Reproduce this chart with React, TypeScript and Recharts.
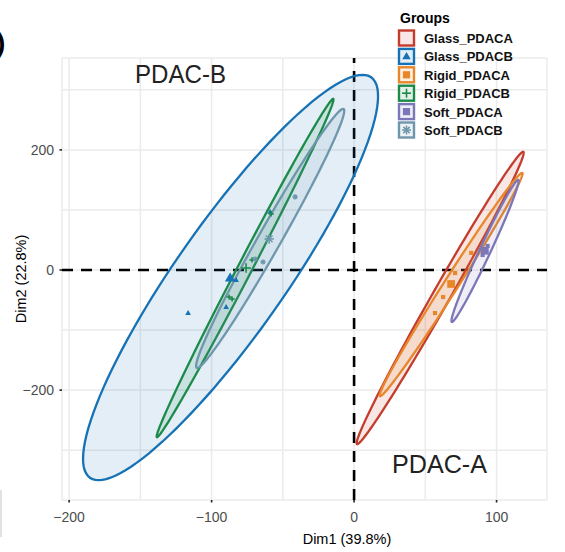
import React from 'react';
import {
    ScatterChart,
    Scatter,
    XAxis,
    YAxis,
    CartesianGrid,
    ReferenceLine,
    Legend
} from 'recharts';

const FONT = '"Liberation Sans", Arial, sans-serif';

const groupNames = ['Glass_PDACA', 'Glass_PDACB', 'Rigid_PDACA', 'Rigid_PDACB', 'Soft_PDACA', 'Soft_PDACB'];
const groupColors = ['#C43C2C', '#1672B5', '#E8862A', '#1B8A4B', '#7B77B8', '#6E96AC'];
const groupShapes = ['none', 'triangle', 'square', 'plus', 'square', 'asterisk'];

const xTicks = [-200, -150, -100, -50, 0, 50, 100];
const yTicks = [-300, -200, -100, 0, 100, 200, 300];
const xLabelled = [-200, -100, 0, 100];
const yLabelled = [-200, 0, 200];

// individual samples
const glassPdacaPoints: { x: number; y: number }[] = [];
const glassPdacbPoints = [
    { x: -116.5, y: -71.7 },
    { x: -89.8, y: -61.7 },
    { x: -82.8, y: -16.7 },
    { x: -58.9, y: 96.7 }
];
const rigidPdacaPoints = [
    { x: 70.9, y: -5 },
    { x: 62.5, y: -45 },
    { x: 56.8, y: -71.7 },
    { x: 82.2, y: 28.5 }
];
const rigidPdacbPoints = [
    { x: -87.7, y: -45 },
    { x: -85.6, y: -48.3 },
    { x: -71.6, y: 16.7 },
    { x: -58.2, y: 93.3 }
];
const softPdacaPoints = [
    { x: 90.2, y: 25 },
    { x: 93.7, y: 40 },
    { x: 91.6, y: 31 }
];
const softPdacbPoints = [
    { x: -69.5, y: 18.3 },
    { x: -63.9, y: 13.3 },
    { x: -41.4, y: 121.7 }
];

// group means
const groupMeans = [
    null,
    { x: -87, y: -13.3 },
    { x: 68.1, y: -23.3 },
    { x: -75.8, y: 3.3 },
    { x: 91.8, y: 32 },
    { x: -59.6, y: 51.7 }
];

// ellipses: centre, topmost point, end of horizontal half-chord through centre
const glassPdacaEllipse = [{ x: 60.4, y: -46.7 }, { x: 118.6, y: 196.7 }, { x: 67.4, y: -46.7 }];
const glassPdacbEllipse = [{ x: -86.7, y: -12.5 }, { x: 5.9, y: 325 }, { x: -40.4, y: -12.5 }];
const rigidPdacaEllipse = [{ x: 68.1, y: -24.2 }, { x: 117.9, y: 161.7 }, { x: 74, y: -24.2 }];
const rigidPdacbEllipse = [{ x: -76.5, y: 3.3 }, { x: -14.7, y: 285 }, { x: -70.9, y: 3.3 }];
const softPdacaEllipse = [{ x: 91.9, y: 31.7 }, { x: 115.1, y: 150 }, { x: 96.1, y: 31.7 }];
const softPdacbEllipse = [{ x: -58.9, y: 52.5 }, { x: -7.7, y: 268.3 }, { x: -49.8, y: 52.5 }];

const ellipses = [glassPdacaEllipse, glassPdacbEllipse, rigidPdacaEllipse, rigidPdacbEllipse, softPdacaEllipse, softPdacbEllipse];
const samples = [glassPdacaPoints, glassPdacbPoints, rigidPdacaPoints, rigidPdacbPoints, softPdacaPoints, softPdacbPoints];

const Marker = ({ kind, cx, cy, r, color }: any) => {
    if (cx == null || cy == null) return <g />;
    switch (kind) {
        case 'triangle':
            return (
                <polygon
                    points={`${cx},${cy - r} ${cx + r * 0.95},${cy + r * 0.65} ${cx - r * 0.95},${cy + r * 0.65}`}
                    fill={color}
                />
            );
        case 'square':
            return <rect x={cx - r * 0.8} y={cy - r * 0.8} width={r * 1.6} height={r * 1.6} fill={color} />;
        case 'plus':
            return (
                <g stroke={color} strokeWidth={1.6}>
                    <line x1={cx - r} x2={cx + r} y1={cy} y2={cy} />
                    <line x1={cx} x2={cx} y1={cy - r} y2={cy + r} />
                </g>
            );
        case 'asterisk':
            return (
                <g stroke={color} strokeWidth={1.5}>
                    <line x1={cx - r} x2={cx + r} y1={cy} y2={cy} />
                    <line x1={cx} x2={cx} y1={cy - r} y2={cy + r} />
                    <line x1={cx - r * 0.7} x2={cx + r * 0.7} y1={cy - r * 0.7} y2={cy + r * 0.7} />
                    <line x1={cx - r * 0.7} x2={cx + r * 0.7} y1={cy + r * 0.7} y2={cy - r * 0.7} />
                </g>
            );
        default:
            return <g />;
    }
};

const ellipseLine = (color: string) => (props: any) => {
    const pts = props.points;
    if (!pts || pts.length < 3) return <g />;
    const [c, t, s] = pts;
    const ux = t.x - c.x, uy = t.y - c.y, vx = s.x - c.x, vy = s.y - c.y;
    let d = '';
    for (let i = 0; i <= 120; i++) {
        const a = (i / 120) * Math.PI * 2;
        const x = c.x + Math.cos(a) * ux + Math.sin(a) * vx;
        const y = c.y + Math.cos(a) * uy + Math.sin(a) * vy;
        d += (i === 0 ? 'M' : 'L') + x.toFixed(2) + ',' + y.toFixed(2);
    }
    return <path d={d + 'Z'} fill={color} fillOpacity={0.12} stroke={color} strokeWidth={2.3} />;
};

const fmt = (v: number) => (v < 0 ? '\u2212' + Math.abs(v) : String(v));

const XTick = ({ x, y, payload }: any) => {
    if (!xLabelled.includes(payload.value)) return <g />;
    return (
        <g>
            <line x1={x} x2={x} y1={y} y2={y + 2.5} stroke="#222" strokeWidth={1.6} />
            <text x={x} y={y + 22} textAnchor="middle" fontSize={14} fill="#4d4d4d" fontFamily={FONT}>
                {fmt(payload.value)}
            </text>
        </g>
    );
};

const YTick = ({ x, y, payload }: any) => {
    if (!yLabelled.includes(payload.value)) return <g />;
    return (
        <g>
            <line x1={x - 2.5} x2={x} y1={y} y2={y} stroke="#222" strokeWidth={1.6} />
            <text x={x - 8} y={y + 5} textAnchor="end" fontSize={14} fill="#4d4d4d" fontFamily={FONT}>
                {fmt(payload.value)}
            </text>
        </g>
    );
};

const GroupLegend = () => (
    <svg width={150} height={145} style={{ display: 'block' }}>
        <text x={3} y={23} fontSize={14} fontWeight="bold" fontFamily={FONT} fill="#000">Groups</text>
        {groupNames.map((name, i) => {
            const cy = 38 + i * 18.4;
            const color = groupColors[i];
            return (
                <g key={name}>
                    <rect x={2} y={cy - 7.5} width={15} height={15} fill="#fff" />
                    <rect x={2} y={cy - 7.5} width={15} height={15} fill={color} fillOpacity={0.12} stroke={color} strokeWidth={2.4} />
                    <Marker kind={groupShapes[i]} cx={9.5} cy={cy} r={4.5} color={color} />
                    <text x={27} y={cy + 5} fontSize={13} fontWeight="bold" fontFamily={FONT} fill="#111">{name}</text>
                </g>
            );
        })}
    </svg>
);

export default function App() {
    return (
        <div style={{ position: 'absolute', left: 0, top: 0, width: 565, height: 552, background: '#fff', overflow: 'hidden' }}>
            <ScatterChart width={565} height={552} margin={{ top: 58, right: 18, bottom: 0, left: 0 }}>
                <CartesianGrid stroke="#ebebeb" strokeWidth={1.5} />
                <XAxis
                    type="number"
                    dataKey="x"
                    domain={[-205, 135.4]}
                    ticks={xTicks}
                    allowDataOverflow
                    axisLine={false}
                    tickLine={false}
                    tickSize={0}
                    tickMargin={0}
                    height={52}
                    tick={<XTick />}
                    interval={0}
                />
                <YAxis
                    type="number"
                    dataKey="y"
                    domain={[-383, 353]}
                    ticks={yTicks}
                    allowDataOverflow
                    axisLine={false}
                    tickLine={false}
                    tickSize={0}
                    tickMargin={0}
                    width={62}
                    tick={<YTick />}
                    interval={0}
                />
                {ellipses.map((e, i) => (
                    <Scatter
                        key={'ell-' + groupNames[i]}
                        data={e}
                        line={ellipseLine(groupColors[i])}
                        shape={() => <g />}
                        legendType="none"
                        isAnimationActive={false}
                    />
                ))}
                {samples.map((pts, i) => (
                    <Scatter
                        key={'pts-' + groupNames[i]}
                        name={groupNames[i]}
                        data={pts}
                        shape={(p: any) => <Marker kind={groupShapes[i]} cx={p.cx} cy={p.cy} r={groupShapes[i] === 'triangle' ? 3 : 2.6} color={groupColors[i]} />}
                        isAnimationActive={false}
                    />
                ))}
                {groupMeans.map((m, i) =>
                    m ? (
                        <Scatter
                            key={'mean-' + groupNames[i]}
                            data={[m]}
                            shape={(p: any) => <Marker kind={groupShapes[i]} cx={p.cx} cy={p.cy} r={groupShapes[i] === 'triangle' ? 5.5 : 4.8} color={groupColors[i]} />}
                            legendType="none"
                            isAnimationActive={false}
                        />
                    ) : null
                )}
                <ReferenceLine x={0} stroke="#000" strokeWidth={2.6} strokeDasharray="11 8" />
                <ReferenceLine y={0} stroke="#000" strokeWidth={2.6} strokeDasharray="11 8" />
                <Legend
                    layout="horizontal"
                    verticalAlign="middle"
                    align="center"
                    content={<GroupLegend />}
                    wrapperStyle={{ position: 'absolute', left: 397, top: 0, width: 150, height: 145 }}
                />
            </ScatterChart>
            <svg width={565} height={552} style={{ position: 'absolute', left: 0, top: 0, pointerEvents: 'none' }}>
                <text x={-4} y={52} fontSize={28} fontWeight="bold" fontFamily={FONT} fill="#000">)</text>
                <line x1={1} x2={1} y1={490} y2={537} stroke="#cfcfcf" strokeWidth={1.2} />
                <text x={135} y={83} fontSize={26} fontFamily={FONT} fill="#222" textLength={91} lengthAdjust="spacingAndGlyphs">PDAC-B</text>
                <text x={392} y={473} fontSize={26} fontFamily={FONT} fill="#222" textLength={95} lengthAdjust="spacingAndGlyphs">PDAC-A</text>
                <text x={347} y={544} textAnchor="middle" fontSize={14.5} fontFamily={FONT} fill="#000">Dim1 (39.8%)</text>
                <text
                    x={26}
                    y={279}
                    textAnchor="middle"
                    fontSize={14.5}
                    fontFamily={FONT}
                    fill="#000"
                    transform="rotate(-90 26 279)"
                >
                    Dim2 (22.8%)
                </text>
            </svg>
        </div>
    );
}
